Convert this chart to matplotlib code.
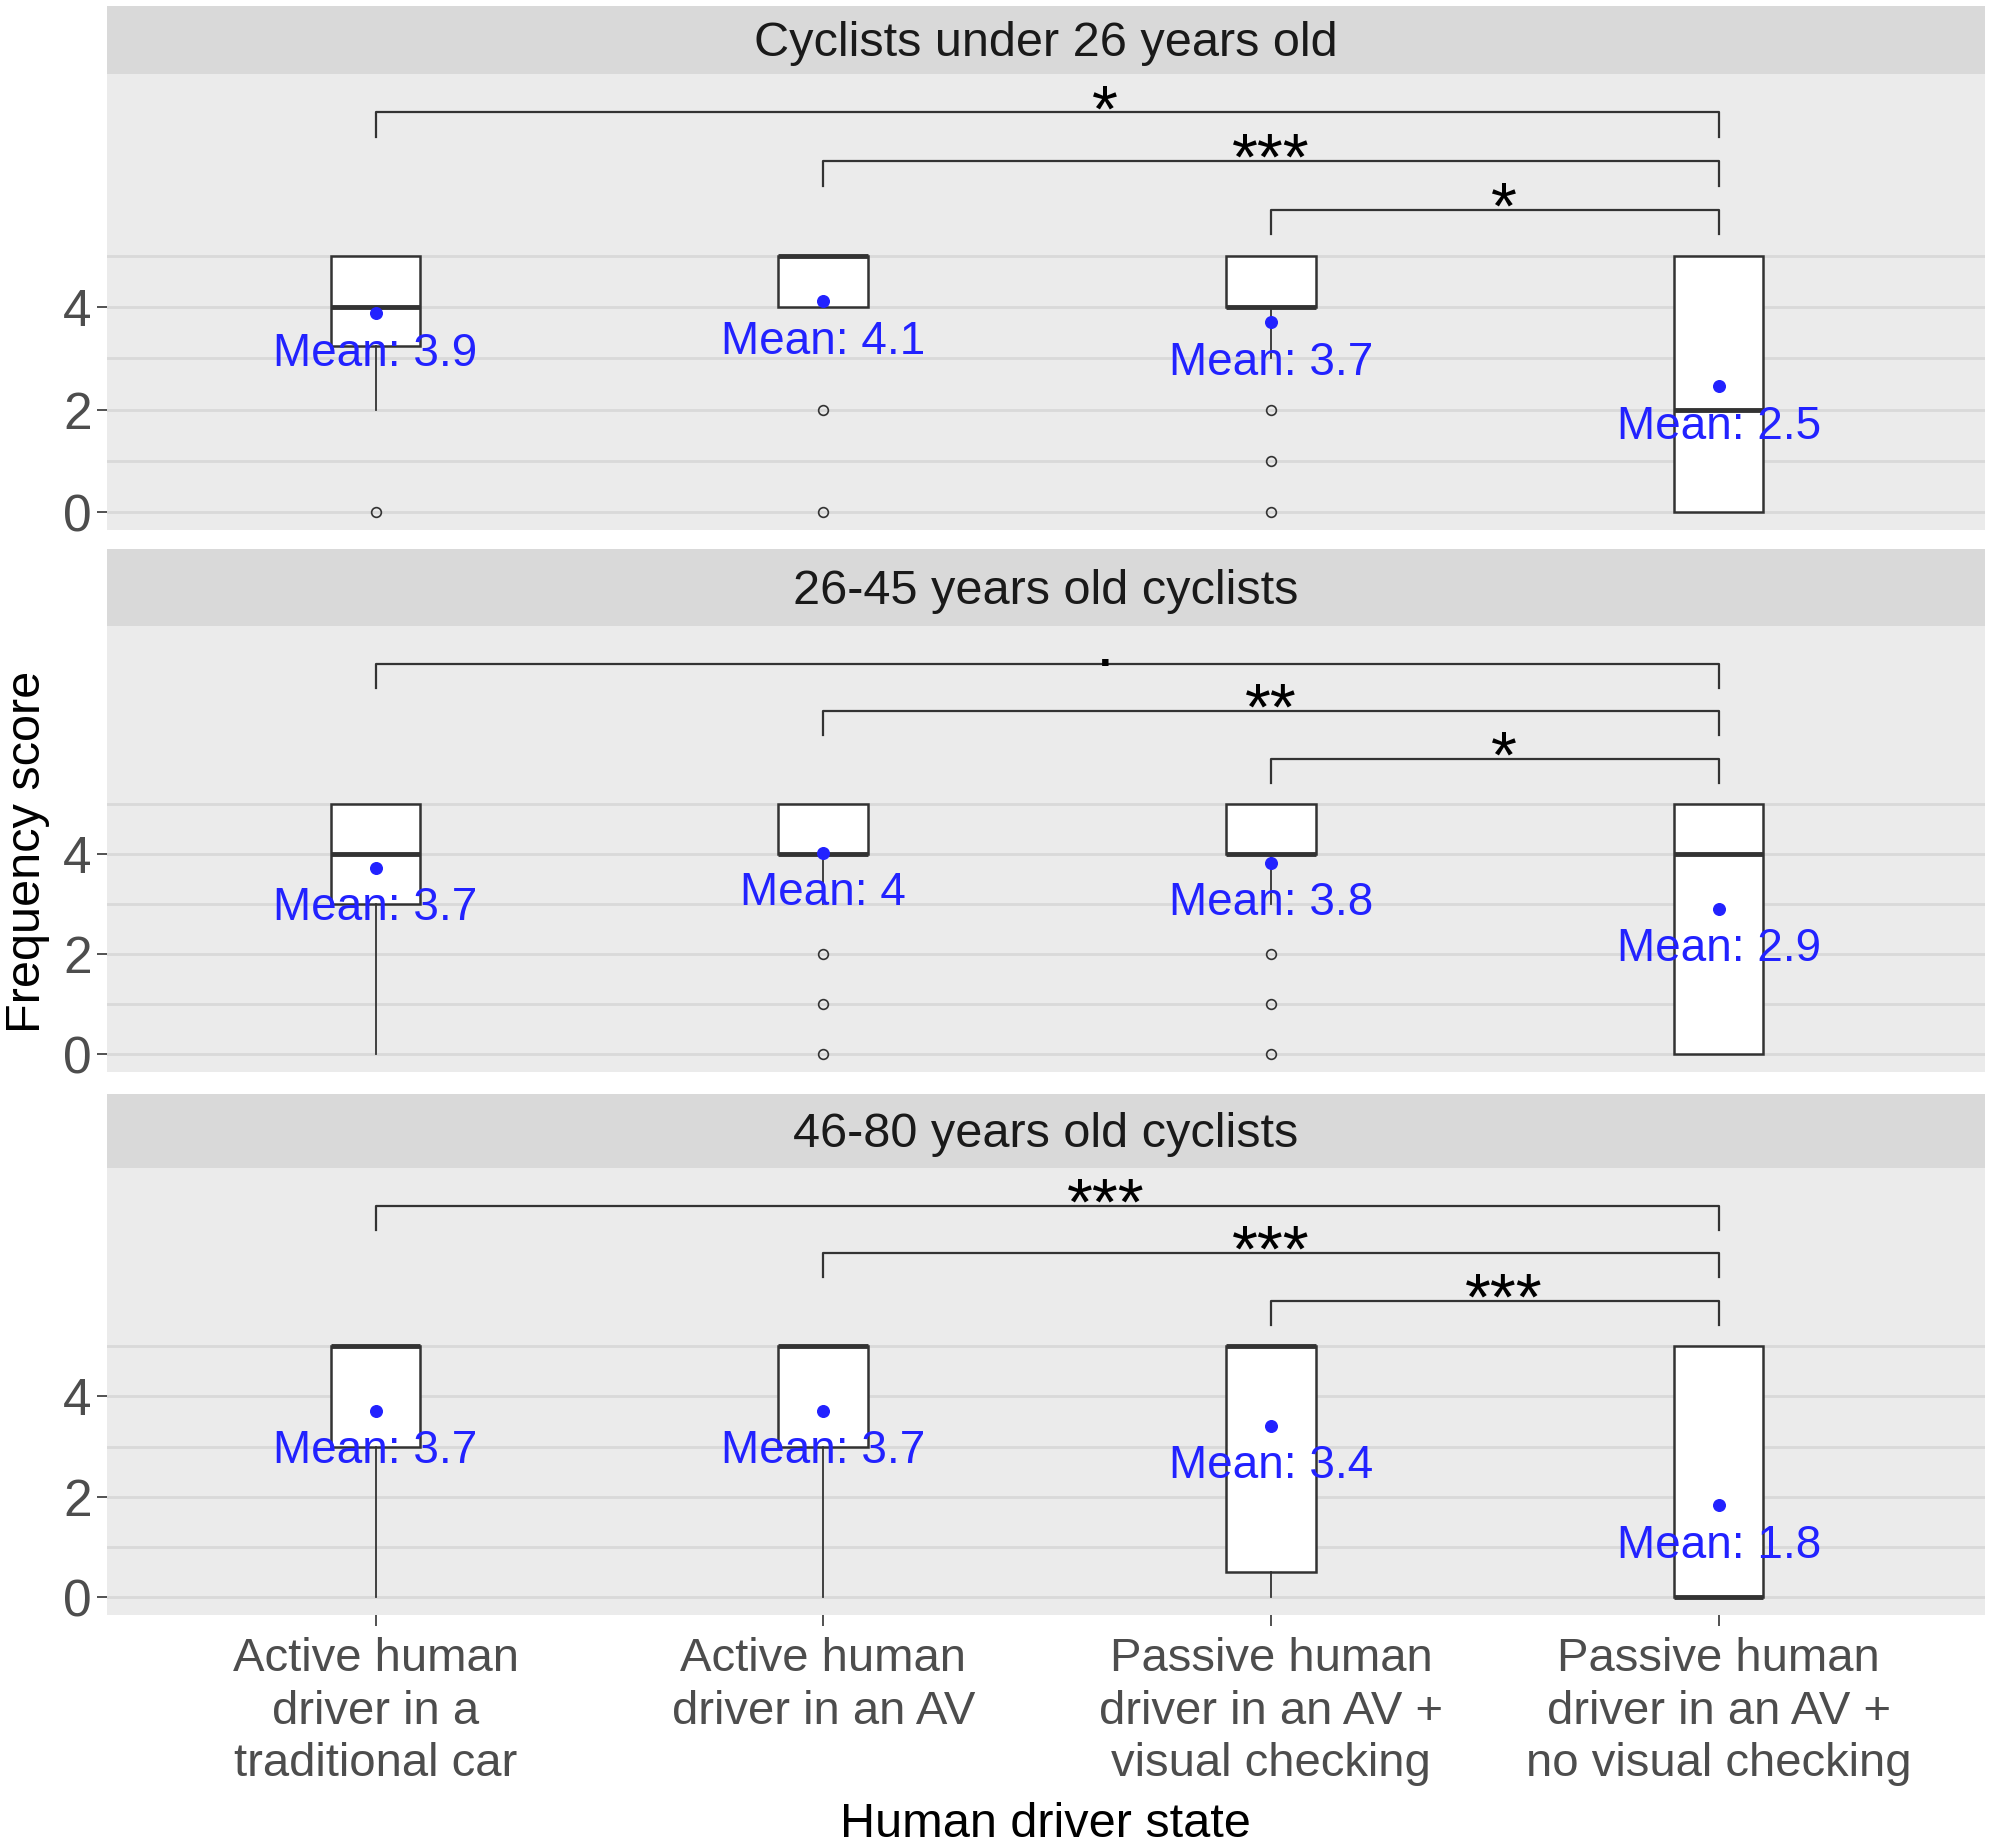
import numpy as np
import matplotlib.pyplot as plt

plt.rcParams['font.family'] = ['Liberation Sans', 'DejaVu Sans']

# Data

categories = ["Active human\ndriver in a\ntraditional car",
              "Active human\ndriver in an AV",
              "Passive human\ndriver in an AV +\nvisual checking",
              "Passive human\ndriver in an AV +\nno visual checking"]

panel_titles = ["Cyclists under 26 years old",
                "26-45 years old cyclists",
                "46-80 years old cyclists"]

# box statistics per panel, one value per category
q1_vals = [[3.25, 4, 4, 0], [3, 4, 4, 0], [3, 3, 0.5, 0]]
median_vals = [[4, 5, 4, 2], [4, 4, 4, 4], [5, 5, 5, 0]]
q3_vals = [[5, 5, 5, 5], [5, 5, 5, 5], [5, 5, 5, 5]]
whisk_lo = [[2, 4, 3, 0], [0, 3, 3, 0], [0, 0, 0, 0]]
whisk_hi = [[5, 5, 5, 5], [5, 5, 5, 5], [5, 5, 5, 5]]
outliers = [[[0], [2, 0], [2, 1, 0], []],
            [[], [2, 1, 0], [2, 1, 0], []],
            [[], [], [], []]]
means = [[3.88, 4.12, 3.70, 2.46],
         [3.72, 4.02, 3.82, 2.91],
         [3.72, 3.72, 3.42, 1.83]]

# significance brackets (group pairs) and their labels per panel
sig_pairs = [(1, 4), (2, 4), (3, 4)]
sig_levels = [7.8, 6.85, 5.9]
sig_labels = [["*", "***", "*"],
              [".", "**", "*"],
              ["***", "***", "***"]]

# Layout

fig = plt.figure(figsize=(19.95, 18.48), dpi=100)

left = 0.0536
width = 0.9414
panel_rects = [(0.7132, 0.2468), (0.4199, 0.2414), (0.1261, 0.2419)]
strip_h = [0.0366, 0.0415, 0.040]
label_shift = [0.13, 0.0, 0.02]   # star labels sit a bit right of the middle

dark = "#333333"
grey_txt = "#4D4D4D"
blue = "#2222FF"
positions = np.arange(1, 5)

for p in range(3):
    bottom, height = panel_rects[p]
    ax = fig.add_axes([left, bottom, width, height])
    ax.set_facecolor("#EBEBEB")
    for s in ax.spines.values():
        s.set_visible(False)

    # grid only up to the box range
    for g in range(6):
        ax.axhline(g, color="#D9D9D9", lw=2.0, zorder=0)

    stats = []
    for i in range(4):
        stats.append({
            "med": median_vals[p][i],
            "q1": q1_vals[p][i],
            "q3": q3_vals[p][i],
            "whislo": whisk_lo[p][i],
            "whishi": whisk_hi[p][i],
            "fliers": outliers[p][i],
        })
    ax.bxp(stats, positions=positions, widths=0.2, patch_artist=True,
           showcaps=False,
           boxprops=dict(facecolor="white", edgecolor=dark, linewidth=1.8),
           medianprops=dict(color=dark, linewidth=3.5),
           whiskerprops=dict(color=dark, linewidth=1.3),
           flierprops=dict(marker="o", markerfacecolor="none",
                           markeredgecolor=dark, markersize=7,
                           markeredgewidth=1.2),
           zorder=2)

    # means and their labels
    ax.scatter(positions, means[p], color=blue, s=70, zorder=4)
    for i in range(4):
        ax.text(positions[i], means[p][i] - 0.8,
                f"Mean: {round(means[p][i], 1):g}",
                color=blue, fontsize=33, ha="center", va="center", zorder=5)

    # significance brackets
    for k, ((g1, g2), lev, lab) in enumerate(zip(sig_pairs, sig_levels, sig_labels[p])):
        ax.plot([g1, g1, g2, g2], [lev - 0.48, lev, lev, lev - 0.48],
                color=dark, lw=1.6, zorder=3)
        off = -0.05 if lab == "." else -0.37
        ax.text((g1 + g2) / 2 + label_shift[k], lev + off, lab, fontsize=48,
                ha="center", va="baseline", color="black")

    ax.set_xlim(0.4, 4.595)
    ax.set_ylim(-0.35, 8.55)
    ax.set_yticks([0, 2, 4])
    ax.set_yticklabels(["0", "2", "4"])
    ax.tick_params(axis="y", length=7, width=1.2, color=dark,
                   labelsize=37, labelcolor=grey_txt, pad=4)
    ax.set_xticks(positions)
    if p == 2:
        ax.set_xticklabels(categories, linespacing=1.25)
        ax.tick_params(axis="x", length=8, width=1.2, color=dark,
                       labelsize=34, labelcolor=grey_txt, pad=8)
    else:
        ax.tick_params(axis="x", length=0, labelbottom=False)

    # facet strip
    sax = fig.add_axes([left, bottom + height, width, strip_h[p]])
    sax.set_facecolor("#D9D9D9")
    sax.set_xticks([])
    sax.set_yticks([])
    for s in sax.spines.values():
        s.set_visible(False)
    sax.text(0.5, 0.45, panel_titles[p], fontsize=35, color="#1A1A1A",
             ha="center", va="center", transform=sax.transAxes)

fig.text(0.014, 0.539, "Frequency score", rotation=90, fontsize=35,
         ha="center", va="center", color="black")
fig.text(0.524, 0.0125, "Human driver state", fontsize=35,
         ha="center", va="center", color="black")

fig.savefig("out.png", dpi=100, facecolor="white")
